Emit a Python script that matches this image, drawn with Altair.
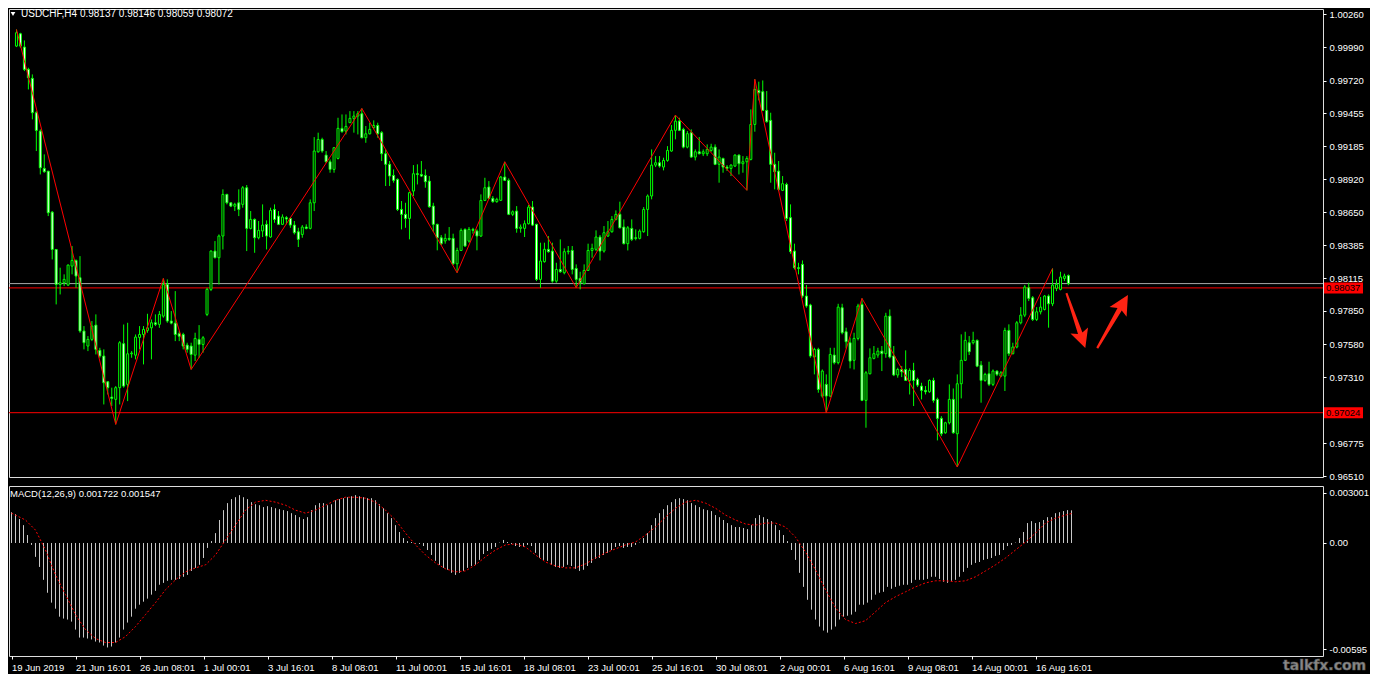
import altair as alt
import pandas as pd

# ---------------- price data (units of 1e-5) ----------------
O = [100000,100100,99992,99811,99738,99459,99310,99007,98985,98652,
98349,98065,98079,98060,98214,98260,98120,97687,97565,97619,
97735,97530,97484,97275,97151,97132,97227,97584,97254,97502,
97491,97635,97659,97692,97713,97754,97741,97808,98065,97768,
97751,97665,97659,97573,97565,97491,97619,97578,97822,98025,
98336,98282,98458,98796,98728,98700,98728,98715,98850,98520,
98593,98444,98499,98553,98450,98674,98620,98553,98607,98601,
98547,98493,98471,98531,98520,98728,99142,99242,99115,99061,
98999,99088,99332,99310,99378,99413,99432,99451,99256,99288,
99337,99356,99297,99126,99040,98950,98918,98674,98634,98601,
98823,98964,98958,98950,98904,98701,98553,98444,98418,98439,
98439,98233,98341,98512,98417,98512,98499,98458,98747,98856,
98764,98737,98748,98937,98910,98634,98661,98520,98520,98558,
98693,98553,98106,98250,98350,98336,98092,98187,98160,98331,
98341,98195,98114,98071,98179,98341,98350,98450,98336,98458,
98493,98593,98634,98531,98396,98520,98444,98439,98493,98674,
98783,99034,99053,99018,99072,99148,99316,99391,99324,99180,
99297,99099,99142,99126,99126,99153,99180,99040,99088,99018,
99007,99026,99115,99045,99061,99080,99364,99640,99630,99478,
99397,99040,98985,98829,98877,98607,98336,98201,98228,97971,
97898,97476,97538,97159,97254,97159,97492,97430,97876,97681,
97592,97449,97627,97903,97124,97340,97465,97492,97524,97503,
97808,97484,97330,97375,97375,97286,97367,97294,97240,97205,
97194,97286,97132,96978,96861,96942,97132,96853,97259,97449,
97592,97592,97611,97410,97286,97340,97254,97362,97321,97321,
97692,97503,97557,97754,97816,98038,97957,97781,97843,97862,
97971,97908,98033,98025,98114,98137]

H = [100135,100108,100046,99824,99770,99472,99324,99121,98985,98661,
98349,98201,98147,98228,98377,98268,98295,97727,97646,97768,
97822,97551,97538,97281,97227,97240,97605,97740,97754,97524,
97659,97727,97727,97827,97781,97822,97849,98114,98106,97849,
98011,97686,97673,97592,97592,97673,97735,97646,98038,98341,
98417,98471,98837,98801,98728,98728,98837,98864,98872,98661,
98601,98580,98715,98585,98688,98715,98661,98634,98620,98612,
98580,98525,98547,98553,98755,99261,99297,99256,99148,99080,
99180,99418,99445,99445,99472,99472,99472,99494,99351,99378,
99397,99378,99310,99161,99067,98999,98926,98742,98728,98818,
99034,99040,99067,98999,98945,98728,98558,98466,98477,98531,
98477,98363,98520,98520,98531,98525,98512,98796,98931,98904,
98783,98769,98945,99061,98926,98666,98701,98552,98585,98710,
98742,98558,98404,98404,98458,98404,98241,98431,98358,98377,
98377,98228,98168,98228,98396,98396,98504,98466,98539,98580,
98620,98666,98737,98593,98539,98593,98512,98512,98693,98796,
99161,99107,99107,99094,99188,99359,99440,99418,99337,99310,
99324,99161,99262,99161,99202,99207,99202,99161,99094,99034,
99040,99121,99121,99107,99107,99486,99730,99711,99721,99635,
99459,99134,99067,98945,98891,98715,98396,98241,98260,98060,
97908,97551,97551,97375,97335,97551,97551,97908,97908,97714,
97633,97673,97908,97952,97362,97546,97565,97551,97565,97835,
97862,97565,97389,97402,97530,97384,97429,97308,97267,97240,
97294,97308,97146,96996,96950,97254,97221,97335,97660,97681,
97646,97681,97619,97443,97348,97438,97375,97367,97362,97714,
97741,97592,97768,97881,98060,98079,97971,97881,97963,97979,
97984,98195,98106,98168,98152,98146]

L = [99992,99987,99797,99648,99405,99148,98958,98972,98620,98268,
97903,97984,98052,98052,98147,98038,97673,97538,97524,97605,
97497,97470,97091,97172,97078,96929,97091,97227,97118,97470,
97457,97538,97416,97673,97457,97727,97713,97795,97754,97741,
97605,97605,97538,97511,97375,97443,97470,97511,97808,98011,
98277,98065,98349,98715,98693,98661,98620,98688,98336,98512,
98322,98431,98450,98349,98444,98566,98547,98547,98553,98525,
98471,98369,98444,98512,98512,98661,99134,99134,99053,98972,
98972,99080,99297,99283,99378,99297,99283,99251,99215,99283,
99324,99256,99067,98864,98864,98891,98661,98512,98525,98431,
98783,98877,98937,98850,98688,98493,98342,98385,98396,98418,
98222,98160,98336,98369,98404,98477,98342,98450,98742,98756,
98728,98728,98742,98904,98628,98620,98485,98485,98450,98552,
98539,98092,98038,98242,98323,98079,98079,98160,98147,98309,
98147,98038,98025,98065,98174,98282,98336,98260,98323,98450,
98485,98585,98520,98390,98341,98417,98423,98431,98485,98458,
98756,99018,99013,98991,99061,99142,99243,99310,99170,99170,
99094,99072,99121,99107,99107,99142,99034,98891,98972,98986,
98945,99018,98958,98972,98829,99072,99305,99559,99473,99378,
98891,98837,98823,98823,98580,98314,98187,98147,97957,97876,
97470,97335,97186,97146,97024,97150,97416,97416,97660,97546,
97384,97375,97611,97118,96902,97335,97457,97470,97362,97470,
97465,97321,97308,97313,97281,97172,97078,97232,97132,97172,
97186,97105,96799,96834,96853,96929,96853,96583,97140,97443,
97492,97578,97394,97105,97275,97240,97240,97321,97313,97200,
97484,97497,97546,97741,97800,97930,97768,97768,97822,97854,
97714,97889,98011,98017,98093,98059]

C = [100108,100000,99811,99743,99459,99315,99012,98980,98647,98349,
98065,98079,98106,98222,98260,98133,97687,97592,97619,97727,
97538,97484,97267,97227,97140,97227,97592,97240,97502,97508,
97638,97659,97700,97713,97754,97741,97822,98065,97768,97751,
97659,97645,97565,97538,97497,97627,97578,97632,98025,98336,
98282,98458,98796,98728,98701,98715,98674,98850,98520,98593,
98444,98504,98547,98458,98666,98593,98553,98612,98596,98547,
98485,98431,98531,98520,98728,99148,99242,99148,99061,98999,
99175,99332,99305,99348,99413,99432,99451,99256,99288,99324,
99356,99289,99126,99040,98945,98910,98674,98634,98601,98810,
98964,98958,98945,98899,98696,98553,98444,98396,98439,98431,
98233,98341,98504,98377,98512,98504,98458,98747,98850,98764,
98737,98756,98937,98910,98634,98655,98520,98531,98558,98693,
98547,98106,98255,98350,98331,98092,98187,98168,98331,98336,
98187,98106,98079,98179,98341,98358,98450,98336,98485,98493,
98593,98634,98525,98396,98525,98431,98439,98498,98674,98783,
99034,99053,99026,99072,99153,99316,99391,99316,99180,99289,
99099,99142,99126,99142,99161,99180,99040,99099,99018,99007,
99034,99115,99045,99061,99088,99364,99648,99621,99478,99386,
99040,98980,98837,98883,98601,98331,98201,98195,97971,97890,
97484,97538,97213,97362,97159,97497,97430,97881,97673,97600,
97443,97627,97890,97124,97348,97470,97503,97524,97503,97808,
97476,97330,97375,97356,97286,97367,97286,97248,97205,97194,
97286,97124,96978,96853,96942,97132,96861,97259,97449,97611,
97519,97611,97402,97286,97335,97254,97362,97335,97348,97692,
97503,97557,97754,97816,98044,97952,97781,97843,97881,97971,
97908,98060,98066,98125,98133,98072]

# ---------------- MACD (units of 1e-5) ----------------
MACD = [162,152,126,94,42,-10,-73,-126,-194,-262,
-314,-346,-388,-398,-403,-414,-456,-498,-498,-503,
-508,-519,-524,-540,-550,-545,-524,-498,-456,-419,
-388,-346,-325,-309,-293,-272,-252,-220,-210,-199,
-194,-194,-189,-178,-168,-147,-131,-115,-79,-26,
10,52,121,173,210,231,241,252,241,231,
215,204,199,189,194,189,183,178,173,168,
157,147,136,126,136,173,199,210,210,199,
204,225,231,236,241,246,252,246,241,236,
236,225,204,183,157,131,94,58,26,10,
5,-3,-5,-16,-37,-63,-94,-115,-131,-141,
-157,-168,-157,-147,-131,-121,-115,-89,-58,-42,
-31,-21,2,16,5,-5,-16,-21,-21,-10,
-16,-52,-79,-89,-94,-115,-126,-131,-126,-115,
-121,-136,-147,-141,-121,-105,-84,-79,-63,-52,
-37,-21,-16,-26,-21,-21,-10,2,26,52,
94,131,157,178,199,215,231,236,231,225,
210,199,189,178,173,168,147,136,121,105,
94,84,84,79,73,94,131,147,136,126,
115,94,68,42,10,-37,-89,-157,-231,-299,
-351,-403,-440,-461,-472,-456,-440,-403,-388,-383,
-377,-362,-325,-325,-314,-299,-272,-262,-257,-231,
-241,-231,-225,-220,-220,-210,-194,-194,-194,-189,
-178,-178,-189,-204,-210,-199,-194,-178,-152,-131,
-115,-105,-100,-89,-84,-79,-68,-63,-37,-16,
-10,2,26,58,105,115,105,110,121,136,
136,157,162,168,173,172]

SIG = [157,121,68,-37,-168,-272,-377,-456,-503,-524,
-524,-493,-440,-377,-314,-246,-194,-152,-131,-115,
-63,16,94,173,215,225,215,199,173,157,
173,199,225,241,241,236,215,173,121,52,
-10,-63,-105,-136,-152,-147,-115,-73,-37,-10,
-5,-21,-63,-100,-121,-131,-131,-110,-79,-52,
-31,-10,5,42,84,136,183,215,225,210,
183,147,121,100,94,105,105,84,31,-47,
-141,-246,-341,-403,-424,-409,-362,-314,-283,-257,
-231,-210,-199,-199,-204,-199,-178,-147,-115,-79,
-37,5,52,105,131,147,155]
SIG_BAR = [0] + [3.5 + 2.5 * k for k in range(105)] + [265]

# ---------------- ZigZag & levels ----------------
ZZ_BAR = [0, 25, 37, 44, 87, 111, 123, 141, 166, 184, 186, 204, 213, 237, 261]
ZZ_PRICE = [1.00135, 0.96929, 0.98114, 0.97375, 0.99494, 0.98160, 0.99061, 0.98038,
            0.99440, 0.98829, 0.99730, 0.97024, 0.97952, 0.96583, 0.98195]
LEVEL_PRICE = [0.98072, 0.98037, 0.97024]
LEVEL_KIND = ["bid", "line", "line"]
TAG_PRICE = [0.98037, 0.97024]
TAG_TEXT = ["0.98037", "0.97024"]
PRICE_TICKS = [1.00260, 0.99990, 0.99720, 0.99455, 0.99185, 0.98920, 0.98650,
               0.98385, 0.98115, 0.97850, 0.97580, 0.97310, 0.96775, 0.96510]
X_LABELS = ["19 Jun 2019", "21 Jun 16:01", "26 Jun 08:01", "1 Jul 00:01", "3 Jul 16:01",
            "8 Jul 08:01", "11 Jul 00:01", "15 Jul 16:01", "18 Jul 08:01", "23 Jul 00:01",
            "25 Jul 16:01", "30 Jul 08:01", "2 Aug 00:01", "6 Aug 16:01", "9 Aug 08:01",
            "14 Aug 00:01", "16 Aug 16:01"]
ARROW_BAR = [266.875, 276.125]
ARROW_PRICE = [0.97772, 0.97764]
HEADER = "USDCHF,H4  0.98137 0.98146 0.98059 0.98072"
MACD_TITLE = "MACD(12,26,9) 0.001722 0.001547"

FONT = "Liberation Sans"
FS = 9.5
W, H_MAIN, H_MACD = 1314, 468, 170

n = len(C)
df = pd.DataFrame({
    "bar": list(range(n)),
    "open": [v / 1e5 for v in O],
    "high": [v / 1e5 for v in H],
    "low": [v / 1e5 for v in L],
    "close": [v / 1e5 for v in C],
})
mdf = pd.DataFrame({"bar": list(range(len(MACD))), "macd": [v / 1e5 for v in MACD],
                    "zero": [0.0] * len(MACD)})
sdf = pd.DataFrame({"bar": SIG_BAR, "sig": [v / 1e5 for v in SIG]})
zdf = pd.DataFrame({"bar": ZZ_BAR, "price": ZZ_PRICE})
ldf = pd.DataFrame({"price": LEVEL_PRICE, "kind": LEVEL_KIND})
tdf = pd.DataFrame({"price": TAG_PRICE, "label": TAG_TEXT})

xs = alt.Scale(domain=[-0.625, -0.625 + W / 4], nice=False, zero=False)
ys = alt.Scale(domain=[0.96502, 1.00301], nice=False, zero=False)
ms = alt.Scale(domain=[-0.00595, 0.003001], nice=False, zero=False)

yaxis = alt.Axis(orient="right", values=PRICE_TICKS, format=".5f", title=None, grid=False,
                 domain=False, tickSize=3, tickColor="white", labelColor="white",
                 labelFont=FONT, labelFontSize=FS, labelPadding=3, labelFlush=False,
                 labelOverlap=False)
maxis = alt.Axis(orient="right", values=[0.002635, 0.0, -0.005584], title=None, grid=False,
                 domain=False, tickSize=3, tickColor="white", labelColor="white",
                 labelFont=FONT, labelFontSize=FS, labelPadding=3, labelFlush=False,
                 labelOverlap=False,
                 labelExpr="datum.value > 0.001 ? '0.003001' : (datum.value < -0.001 ? '-0.00595' : '0.00')")
xexpr = "[" + ",".join("'%s'" % s for s in X_LABELS) + "][round(datum.value / 16)]"
xaxis = alt.Axis(orient="bottom", values=list(range(0, 257, 16)), labelExpr=xexpr, title=None,
                 grid=False, domain=False, tickSize=3, tickColor="white", labelColor="white",
                 labelFont=FONT, labelFontSize=FS, labelAlign="left", labelPadding=3,
                 labelFlush=False, labelOverlap=False)

X = alt.X("bar:Q", scale=xs, axis=None)

levels = alt.Chart(ldf).mark_rule(strokeWidth=1).encode(
    y=alt.Y("price:Q", scale=ys, axis=yaxis),
    color=alt.Color("kind:N", scale=alt.Scale(domain=["bid", "line"], range=["#a8a8a8", "#ff0000"]),
                    legend=None),
)
wick = alt.Chart(df).mark_rule(color="#00ff00", strokeWidth=1).encode(
    x=X, y=alt.Y("low:Q", scale=ys, axis=yaxis), y2="high:Q")
body = alt.Chart(df).mark_bar(width=2, stroke="#00ff00", strokeWidth=1).encode(
    x=X, y=alt.Y("open:Q", scale=ys, axis=yaxis), y2="close:Q",
    fill=alt.condition("datum.close > datum.open", alt.value("black"), alt.value("white")))
zz = alt.Chart(zdf).mark_line(color="#ff0000", strokeWidth=1).encode(
    x=X, y=alt.Y("price:Q", scale=ys, axis=yaxis))

ARROW_PATH = "M0,-1 L0.32,-0.36 L0.08,-0.46 L0.035,1 L-0.035,1 L-0.08,-0.46 L-0.32,-0.36 Z"
arrow1 = alt.Chart(pd.DataFrame({"bar": [ARROW_BAR[0]], "price": [ARROW_PRICE[0]]})).mark_point(
    shape=ARROW_PATH, filled=True, color="#ff2414", opacity=1, size=3364, angle=161, strokeWidth=0
).encode(x=X, y=alt.Y("price:Q", scale=ys, axis=yaxis))
arrow2 = alt.Chart(pd.DataFrame({"bar": [ARROW_BAR[1]], "price": [ARROW_PRICE[1]]})).mark_point(
    shape=ARROW_PATH, filled=True, color="#ff2414", opacity=1, size=3770, angle=30, strokeWidth=0
).encode(x=X, y=alt.Y("price:Q", scale=ys, axis=yaxis))

tag_box = alt.Chart(tdf).mark_rule(color="#ff0000", strokeWidth=11, strokeCap="butt").encode(
    x=alt.value(W + 1), x2=alt.value(W + 40), y=alt.Y("price:Q", scale=ys, axis=yaxis))
tag_text = alt.Chart(tdf).mark_text(align="left", baseline="middle", color="black",
                                    font=FONT, fontSize=FS).encode(
    x=alt.value(W + 3), y=alt.Y("price:Q", scale=ys, axis=yaxis), text="label:N")

header = alt.Chart(pd.DataFrame({"t": [HEADER]})).mark_text(
    align="left", baseline="middle", color="white", font=FONT, fontSize=10
).encode(x=alt.value(12), y=alt.value(5), text="t:N")
tri = alt.Chart(pd.DataFrame({"t": [1]})).mark_point(
    shape="triangle-down", filled=True, color="white", opacity=1, size=22
).encode(x=alt.value(4), y=alt.value(5))

main = alt.layer(levels, wick, body, zz, arrow1, arrow2, tag_box, tag_text, header, tri).properties(
    width=W, height=H_MAIN)

XM = alt.X("bar:Q", scale=xs, axis=xaxis)
hist = alt.Chart(mdf).mark_rule(color="#c8c8c8", strokeWidth=1).encode(
    x=XM, y=alt.Y("macd:Q", scale=ms, axis=maxis), y2="zero:Q")
sig = alt.Chart(sdf).mark_line(color="#ff0000", strokeWidth=1, strokeDash=[2, 2]).encode(
    x=XM, y=alt.Y("sig:Q", scale=ms, axis=maxis))
mtitle = alt.Chart(pd.DataFrame({"t": [MACD_TITLE]})).mark_text(
    align="left", baseline="middle", color="white", font=FONT, fontSize=FS
).encode(x=alt.value(1), y=alt.value(8), text="t:N")
wmark = alt.Chart(pd.DataFrame({"t": ["talkfx.com"]})).mark_text(
    align="left", baseline="middle", color="#8a8a8a", font="DejaVu Sans", fontSize=14,
    fontWeight="bold", stroke="#5a5a5a", strokeWidth=0.6
).encode(x=alt.value(W - 40), y=alt.value(H_MACD + 10), text="t:N")

macd = alt.layer(hist, sig, mtitle, wmark).properties(width=W, height=H_MACD)

chart = alt.vconcat(main, macd, spacing=3).properties(
    padding=0, background="black"
).configure_view(stroke="white", strokeWidth=1).configure(font=FONT)

chart.save("out.html", embed_options={"renderer": "svg", "actions": False})
